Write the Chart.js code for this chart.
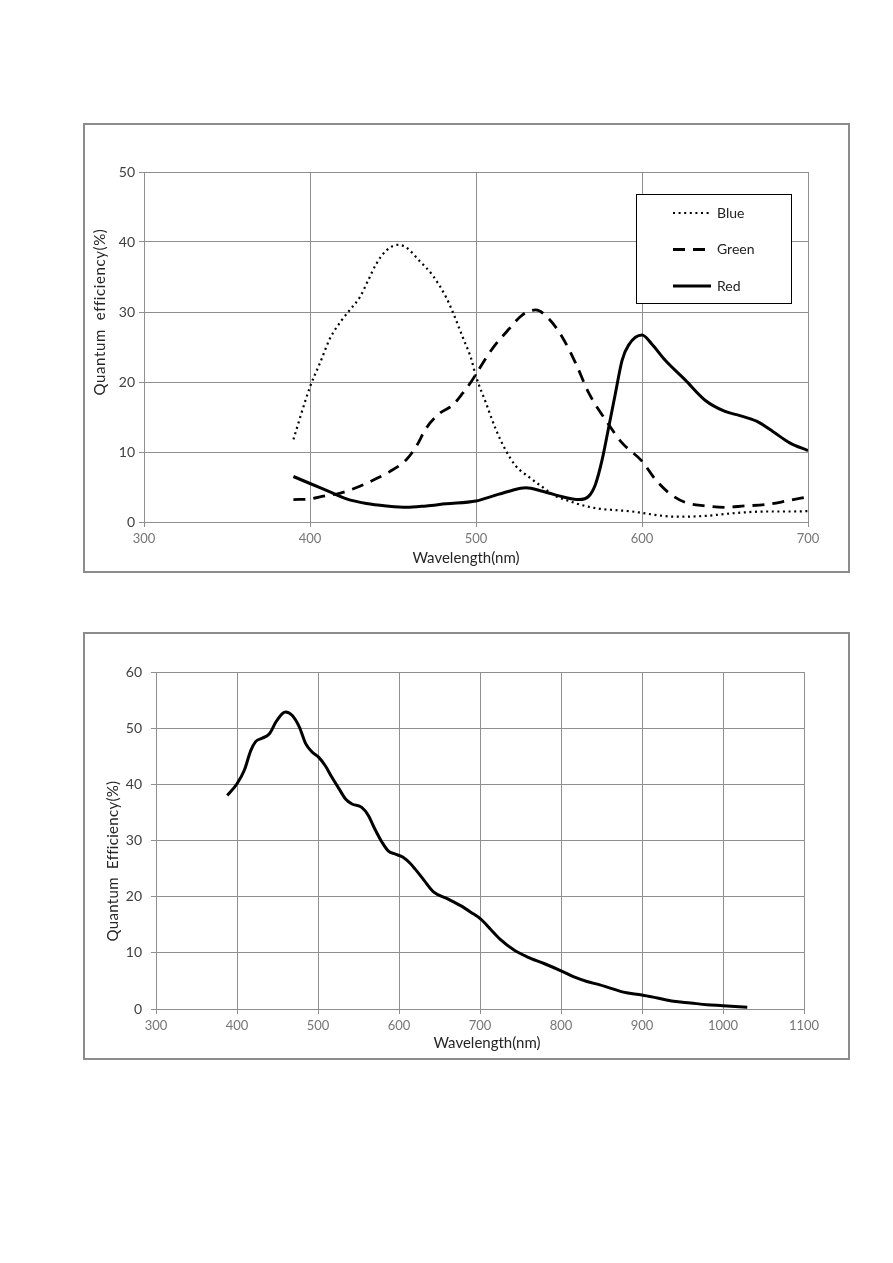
<!DOCTYPE html>
<html>
<head>
<meta charset="utf-8">
<script src="https://cdn.jsdelivr.net/npm/chart.js@4.4.0/dist/chart.umd.min.js"></script>
<style>
  body { margin: 0; background: #fff; width: 893px; height: 1263px; position: relative; }
  .box { position: absolute; left: 83px; width: 767px; border: 2px solid #8c8c8c; box-sizing: border-box; background: #fff; }
  #box1 { top: 123px; height: 450px; }
  #box2 { top: 632px; height: 428px; }
  canvas { display: block; }
</style>
</head>
<body>
<div class="box" id="box1"><canvas id="qeRgb" width="763" height="446"></canvas></div>
<div class="box" id="box2"><canvas id="qeMono" width="763" height="424"></canvas></div>
<script>
// --- color sensor: wavelength (nm) / quantum efficiency (%)
const blueNm = [390, 400, 406, 412, 419, 424, 430, 435, 440, 446, 453, 458, 466, 474, 482, 486, 492, 497, 500, 506, 512, 518, 524, 532, 540, 548, 556, 564, 574, 584, 594, 600, 610, 620, 630, 640, 650, 660, 675, 690, 700];
const blueQe = [11.8, 19.3, 22.7, 26.2, 28.8, 30.3, 32.1, 34.5, 36.9, 38.8, 39.6, 39.2, 37.3, 35.2, 32.1, 30.0, 26.4, 23.4, 20.8, 17.0, 13.2, 10.2, 8.0, 6.4, 5.0, 3.7, 3.0, 2.4, 1.9, 1.7, 1.5, 1.3, 0.95, 0.76, 0.78, 0.9, 1.15, 1.35, 1.5, 1.5, 1.55];

const greenNm = [390, 400, 408, 416, 422, 430, 440, 448, 458, 464, 470, 478, 486, 492, 497, 502, 510, 520, 528, 536, 544, 552, 560, 568, 578, 588, 600, 608, 616, 626, 638, 650, 662, 675, 687, 700];
const greenQe = [3.2, 3.3, 3.7, 4.0, 4.4, 5.1, 6.2, 7.2, 8.9, 10.8, 13.4, 15.5, 16.7, 18.4, 20.0, 21.9, 24.8, 27.6, 29.6, 30.3, 29.0, 26.4, 22.7, 18.4, 14.6, 11.3, 8.7, 6.1, 4.2, 2.8, 2.3, 2.1, 2.3, 2.5, 3.0, 3.6];

const redNm = [390, 400, 412, 422, 434, 446, 458, 470, 482, 500, 510, 520, 530, 540, 554, 562, 568, 572, 576, 580, 584, 588, 592, 600, 606, 614, 626, 638, 650, 659, 669, 679, 689, 700];
const redQe = [6.5, 5.5, 4.3, 3.3, 2.65, 2.3, 2.1, 2.3, 2.6, 3.0, 3.7, 4.4, 4.9, 4.4, 3.5, 3.2, 3.7, 5.4, 8.9, 13.6, 18.4, 23.1, 25.3, 26.7, 25.4, 23.1, 20.3, 17.4, 15.8, 15.2, 14.4, 12.9, 11.3, 10.2];

// --- mono sensor
const monoNm = [388, 400, 409, 417, 423, 431, 440, 448, 456, 460, 468, 477, 485, 493, 501, 509, 517, 526, 534, 542, 554, 562, 570, 579, 587, 595, 605, 614, 620, 631, 643, 660, 676, 689, 701, 713, 725, 742, 758, 779, 800, 816, 832, 848, 857, 877, 900, 919, 939, 960, 980, 1000, 1030];
const monoQe = [38.0, 40.1, 42.5, 46.0, 47.6, 48.2, 49.0, 51.1, 52.6, 52.9, 52.3, 50.2, 47.2, 45.7, 44.8, 43.3, 41.3, 39.2, 37.4, 36.5, 35.9, 34.5, 32.1, 29.7, 28.1, 27.6, 27.0, 25.9, 24.9, 22.9, 20.8, 19.6, 18.4, 17.2, 16.0, 14.2, 12.4, 10.5, 9.3, 8.1, 6.8, 5.7, 4.9, 4.3, 3.9, 3.0, 2.5, 1.96, 1.37, 1.07, 0.77, 0.6, 0.3];

const rgbXTicks = [300, 400, 500, 600, 700];
const rgbYTicks = [0, 10, 20, 30, 40, 50];
const monoXTicks = [300, 400, 500, 600, 700, 800, 900, 1000, 1100];
const monoYTicks = [0, 10, 20, 30, 40, 50, 60];

Chart.defaults.font.family = 'Lato, "Open Sans", sans-serif';

const toPoints = (xs, ys) => xs.map((x, i) => ({ x, y: ys[i] }));

function scalesFor(xTicks, yTicks, yWidth, yPad) {
  const gridCol = '#8f8f8f';
  return {
    x: {
      type: 'linear',
      min: xTicks[0],
      max: xTicks[xTicks.length - 1],
      afterBuildTicks: s => { s.ticks = xTicks.map(v => ({ value: v })); },
      afterFit: s => { s.height = 49; },
      grid: { color: gridCol, tickColor: gridCol, tickLength: 5 },
      border: { color: gridCol },
      ticks: { color: '#767676', font: { size: 13 }, padding: 4, maxRotation: 0, callback: v => String(v) }
    },
    y: {
      type: 'linear',
      min: yTicks[0],
      max: yTicks[yTicks.length - 1],
      afterBuildTicks: s => { s.ticks = yTicks.map(v => ({ value: v })); },
      afterFit: s => { s.width = yWidth; },
      grid: { color: gridCol, tickColor: gridCol, tickLength: 5 },
      border: { color: gridCol },
      ticks: { color: '#404040', font: { size: 14 }, padding: yPad, callback: v => String(v) }
    }
  };
}

// axis titles drawn where the original puts them
const axisTitles = {
  id: 'axisTitles',
  afterDraw(chart, args, o) {
    const ctx = chart.ctx;
    ctx.save();
    ctx.fillStyle = '#262626';
    ctx.font = '15px Lato, sans-serif';
    ctx.textAlign = 'center';
    ctx.textBaseline = 'middle';
    ctx.fillText(o.x.text, o.x.cx, o.x.cy);
    ctx.translate(o.y.cx, o.y.cy);
    ctx.rotate(-Math.PI / 2);
    if (o.y.spacing) ctx.letterSpacing = o.y.spacing;
    ctx.fillText(o.y.text, 0, 0);
    ctx.restore();
  }
};

// boxed legend inside the plot
const legendBox = {
  id: 'legendBox',
  afterDraw(chart, args, o) {
    if (!o.show) return;
    const ctx = chart.ctx;
    ctx.save();
    ctx.fillStyle = '#fff';
    ctx.fillRect(o.x, o.y, o.w, o.h);
    ctx.strokeStyle = '#000';
    ctx.lineWidth = 1;
    ctx.strokeRect(o.x + 0.5, o.y + 0.5, o.w, o.h);
    chart.data.datasets.forEach((ds, i) => {
      const cy = o.y + o.firstRow + i * o.rowGap;
      ctx.beginPath();
      ctx.setLineDash(ds.borderDash || []);
      ctx.lineWidth = ds.borderWidth;
      ctx.strokeStyle = ds.borderColor;
      ctx.moveTo(o.x + o.lineStart, cy);
      ctx.lineTo(o.x + o.lineStart + o.lineLen, cy);
      ctx.stroke();
      ctx.setLineDash([]);
      ctx.fillStyle = '#222';
      ctx.font = '14px Lato, sans-serif';
      ctx.textBaseline = 'middle';
      ctx.fillText(ds.label, o.x + o.textStart, cy);
    });
    ctx.restore();
  }
};

const lineBase = { borderColor: '#000', pointRadius: 0, fill: false, cubicInterpolationMode: 'monotone' };

new Chart(document.getElementById('qeRgb'), {
  type: 'line',
  data: {
    datasets: [
      { ...lineBase, label: 'Blue', data: toPoints(blueNm, blueQe), borderWidth: 2.2, borderDash: [2, 3.6] },
      { ...lineBase, label: 'Green', data: toPoints(greenNm, greenQe), borderWidth: 2.8, borderDash: [12, 8] },
      { ...lineBase, label: 'Red', data: toPoints(redNm, redQe), borderWidth: 3 }
    ]
  },
  options: {
    responsive: false,
    animation: false,
    layout: { padding: { left: 0, top: 47, right: 40, bottom: 0 } },
    scales: scalesFor(rgbXTicks, rgbYTicks, 59, 4),
    plugins: {
      legend: { display: false },
      tooltip: { enabled: false },
      axisTitles: {
        x: { text: 'Wavelength(nm)', cx: 381, cy: 433 },
        y: { text: 'Quantum  efficiency(%)', cx: 15, cy: 187, spacing: '0.6px' }
      },
      legendBox: { show: true, x: 551, y: 69, w: 155, h: 109, firstRow: 19, rowGap: 36.5, lineStart: 37, lineLen: 38, textStart: 81 }
    }
  },
  plugins: [axisTitles, legendBox]
});

new Chart(document.getElementById('qeMono'), {
  type: 'line',
  data: {
    datasets: [
      { ...lineBase, label: 'QE', data: toPoints(monoNm, monoQe), borderWidth: 3 }
    ]
  },
  options: {
    responsive: false,
    animation: false,
    layout: { padding: { left: 0, top: 38, right: 44, bottom: 0 } },
    scales: scalesFor(monoXTicks, monoYTicks, 71, 9),
    plugins: {
      legend: { display: false },
      tooltip: { enabled: false },
      axisTitles: {
        x: { text: 'Wavelength(nm)', cx: 402, cy: 409 },
        y: { text: 'Quantum  Efficiency(%)', cx: 28, cy: 227, spacing: '0.3px' }
      },
      legendBox: { show: false }
    }
  },
  plugins: [axisTitles, legendBox]
});
</script>
</body>
</html>
